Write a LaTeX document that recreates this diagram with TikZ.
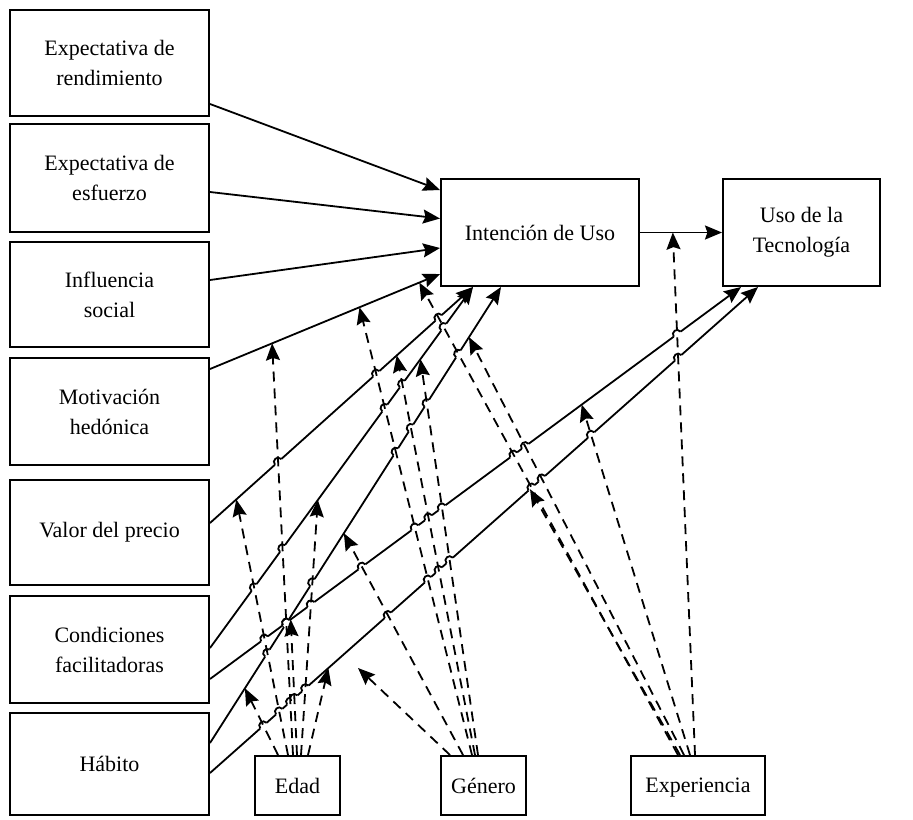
\documentclass[tikz,border=0pt]{standalone}
\usepackage{fontspec}
\setmainfont{Liberation Serif}
\usetikzlibrary{arrows.meta,calc,intersections}
\begin{document}
\begin{tikzpicture}[x=0.5pt,y=-0.5pt,
  box/.style={draw,line width=1pt,inner sep=0pt,align=center,font=\fontsize{11}{15}\selectfont},
  solidarr/.style={line width=0.9pt,-{Stealth[length=8.5pt,width=7pt,inset=1.2pt]}},
  dasharr/.style={line width=0.9pt,dash pattern=on 5pt off 3.5pt,-{Stealth[length=8.5pt,width=7pt,inset=1.2pt]}}]
\useasboundingbox (0,0) rectangle (913,819);
% left column
\node[box,minimum width=99.5pt,minimum height=53pt] (pe) at (109.5,63) {Expectativa de\\rendimiento};
\node[box,minimum width=99.5pt,minimum height=54pt] (ee) at (109.5,178) {Expectativa de\\esfuerzo};
\node[box,minimum width=99.5pt,minimum height=52.5pt] (si) at (109.5,294.5) {Influencia\\social};
\node[box,minimum width=99.5pt,minimum height=53.5pt] (hm) at (109.5,411.5) {Motivación\\hedónica};
\node[box,minimum width=99.5pt,minimum height=52.5pt] (pv) at (109.5,532.5) {Valor del precio};
\node[box,minimum width=99.5pt,minimum height=53.5pt] (fc) at (109.5,649.5) {Condiciones\\facilitadoras};
\node[box,minimum width=99.5pt,minimum height=51pt] (ht) at (109.5,764) {Hábito};
% targets
\node[box,minimum width=99pt,minimum height=53.5pt] (bi) at (540,232.5) {Intención de Uso};
\node[box,minimum width=78.5pt,minimum height=53.5pt] (ub) at (801.5,232.5) {Uso de la\\Tecnología};
% moderators
\node[box,minimum width=42.5pt,minimum height=29.5pt] (age) at (297.5,785.5) {Edad};
\node[box,minimum width=42.5pt,minimum height=29.5pt] (gen) at (483.5,785.5) {Género};
\node[box,minimum width=67pt,minimum height=29.5pt,text depth=0pt] (exp) at (698,785.5) {Experiencia};
% line end points
\coordinate (peS) at ($(pe.south east)+(0,-13)$);
\coordinate (peE) at ($(bi.west)+(0,-42.5)$);
\coordinate (eeS) at ($(ee.east)+(0,14)$);
\coordinate (eeE) at ($(bi.west)+(0,-14)$);
\coordinate (siS) at ($(si.east)+(0,-14.5)$);
\coordinate (siE) at ($(bi.west)+(0,15.5)$);
\coordinate (hmS) at ($(hm.east)+(0,-42.5)$);
\coordinate (hmE) at ($(bi.west)+(0,41.5)$);
\coordinate (pvS) at ($(pv.east)+(0,-9.5)$);
\coordinate (pvE) at ($(bi.south west)+(33,0)$);
\coordinate (fcS) at ($(fc.east)+(0,-1.5)$);
\coordinate (fcE) at ($(bi.south west)+(33,0)$);
\coordinate (htS) at ($(ht.east)+(0,-21)$);
\coordinate (htE) at ($(bi.south west)+(61,0)$);
\coordinate (fuS) at ($(fc.east)+(0,29.5)$);
\coordinate (fuE) at ($(ub.south west)+(19,0)$);
\coordinate (huS) at ($(ht.east)+(0,9)$);
\coordinate (huE) at ($(ub.south west)+(36,0)$);
\coordinate (free) at (358,668);
% moderator lines: sources and tips
\coordinate (d1s) at ($(age.north)+(-19.5,0)$);  \coordinate (d1t) at ($(htS)!0.12!(htE)$);
\coordinate (d2s) at ($(age.north)+(-9.5,0)$);   \coordinate (d2t) at ($(pvS)!0.10!(pvE)$);
\coordinate (d3s) at ($(age.north)+(-4.5,0)$);   \coordinate (d3t) at ($(hmS)!0.27!(hmE)$);
\coordinate (d4s) at ($(age.north)+(-0.5,0)$);   \coordinate (d4t) at ($(fuS)!0.152!(fuE)$);
\coordinate (d5s) at ($(age.north)+(3.5,0)$);    \coordinate (d5t) at ($(fcS)!0.41!(fcE)$);
\coordinate (d6s) at ($(age.north)+(10.5,0)$);   \coordinate (d6t) at ($(huS)!0.216!(huE)$);
\coordinate (d7s) at ($(gen.north)+(-33.5,0)$);  \coordinate (d7t) at (free);
\coordinate (d8s) at ($(gen.north)+(-20.5,0)$);  \coordinate (d8t) at ($(htS)!0.46!(htE)$);
\coordinate (d9s) at ($(gen.north)+(-11.5,0)$);  \coordinate (d9t) at ($(hmS)!0.65!(hmE)$);
\coordinate (d10s) at ($(gen.north)+(-8.5,0)$);  \coordinate (d10t) at ($(pvS)!0.71!(pvE)$);
\coordinate (d11s) at ($(gen.north)+(-5.5,0)$);  \coordinate (d11t) at ($(fcS)!0.80!(fcE)$);
\coordinate (d12s) at ($(exp.north)+(-20,0)$);   \coordinate (d12t) at ($(hmS)!0.91!(hmE)$);
\coordinate (d13s) at ($(exp.north)+(-18,0)$);   \coordinate (d13t) at ($(huS)!0.584!(huE)$);
\coordinate (d14s) at ($(exp.north)+(-14,0)$);   \coordinate (d14t) at ($(htS)!0.89!(htE)$);
\coordinate (d15s) at ($(exp.north)+(-8,0)$);    \coordinate (d15t) at ($(fuS)!0.70!(fuE)$);
\coordinate (d16s) at ($(exp.north)+(-3,0)$);    \coordinate (d16t) at ($(bi.east)!0.40!(ub.west)$);
% invisible paths for crossings
\foreach \i in {1,...,16}{
  \path[name path global=dp\i] (d\i s) -- ($(d\i t)!7pt!(d\i s)$);
}
\path[name path global=sp4] (hmS) -- (hmE);
\path[name path global=sp5] (pvS) -- (pvE);
\path[name path global=sp6] (fcS) -- (fcE);
\path[name path global=sp7] (htS) -- (htE);
\path[name path global=sp8] (fuS) -- (fuE);
\path[name path global=sp9] (huS) -- (huE);
% solid arrows
\draw[solidarr] (peS) -- (peE);
\draw[solidarr] (eeS) -- (eeE);
\draw[solidarr] (siS) -- (siE);
\draw[solidarr] (hmS) -- (hmE);
\draw[solidarr] (pvS) -- (pvE);
\draw[solidarr] (fcS) -- (fcE);
\draw[solidarr] (htS) -- (htE);
\draw[solidarr] (fuS) -- (fuE);
\draw[solidarr] (huS) -- (huE);
\draw[solidarr] (bi.east) -- (ub.west);
% line hops where solid lines cross dashed lines
\foreach \n/\a/\b in {4/hmS/hmE,5/pvS/pvE,6/fcS/fcE,7/htS/htE,8/fuS/fuE,9/huS/huE}{
  \foreach \d in {1,...,16}{
    \edef\hoppath{\noexpand\path[name intersections={of=sp\n\space and dp\d, name=X, total=\noexpand\t}]}
    \hoppath \pgfextra{\xdef\tot{\t}};
    \ifnum\tot>0
      \foreach \k in {1,...,\tot}{
        \draw[white,line width=2.6pt] ($(X-\k)!2.1pt!(\a)$) -- ($(X-\k)!2.1pt!(\b)$);
        \draw[line width=0.9pt] ($(X-\k)!2.1pt!(\a)$) .. controls ($(X-\k)!2.1pt!(\a)!2.8pt!90:(X-\k)$) and ($(X-\k)!2.1pt!(\b)!2.8pt!-90:(X-\k)$) .. ($(X-\k)!2.1pt!(\b)$);
      }
    \fi
  }
}
% dashed moderator arrows
\foreach \i in {1,...,16}{
  \draw[dasharr] (d\i s) -- (d\i t);
}
\end{tikzpicture}
\end{document}
